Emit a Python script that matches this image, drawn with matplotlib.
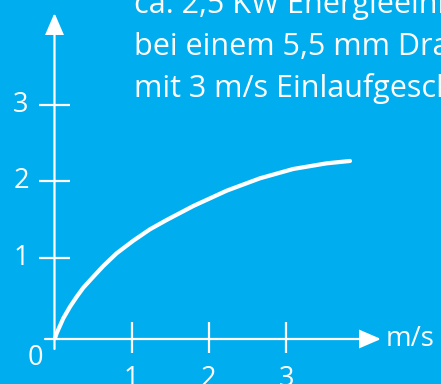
import matplotlib
matplotlib.use("Agg")
import matplotlib.pyplot as plt
from matplotlib.patches import FancyArrowPatch

# ---- data ----
speed = [0.006, 0.028, 0.114, 0.201, 0.288, 0.373, 0.503, 0.632, 0.805, 1.021,
         1.237, 1.453, 1.798, 2.231, 2.662, 3.093, 3.526, 3.828]            # m/s
power = [-0.056, 0.010, 0.206, 0.358, 0.489, 0.607, 0.751, 0.891, 1.058, 1.223,
         1.372, 1.494, 1.677, 1.878, 2.040, 2.162, 2.236, 2.267]            # kW
x_ticks = [1, 2, 3]
y_ticks = [1, 2, 3]
x_tick_labels = ["1", "2", "3"]
y_tick_labels = ["1", "2", "3"]
x_unit = "m/s"
info_lines = ["ca. 2,5 KW Energieeinleitung",
              "bei einem 5,5 mm Draht",
              "mit 3 m/s Einlaufgeschwindigkeit"]

BG = "#00AEEF"
FG = "white"
FONT = "Open Sans"

W, H = 441, 384
fig = plt.figure(figsize=(W / 100, H / 100), dpi=100, facecolor=BG)
ax = fig.add_axes([0, 0, 1, 1])
ax.set_facecolor(BG)
ax.axis("off")

# pixel mapping: x px = 54.5 + 77.2*x ; y px(from top) = 257.7 - 76.35*(y-1)
x0, sx = 54.5, 77.2
y1, sy = 257.7, 76.35
ax.set_xlim(-x0 / sx, (W - x0) / sx)
ax.set_ylim(1 - (H - y1) / sy, 1 + y1 / sy)

def px2x(p):
    return (p - x0) / sx

def px2y(p):
    return 1 + (y1 - p) / sy

xa = 0.0
ya = px2y(339)

# axes with arrows
for a, b in [((xa, px2y(349)), (xa, px2y(13))), ((px2x(45), ya), (px2x(381), ya))]:
    arr = FancyArrowPatch(a, b, arrowstyle="-|>,head_length=13,head_width=5.6",
                          mutation_scale=1, lw=1.6, color=FG,
                          shrinkA=0, shrinkB=0, joinstyle="miter")
    ax.add_patch(arr)

# ticks
half = 15.5
for t in y_ticks:
    ax.plot([px2x(x0 - half), px2x(x0 + half)], [t, t], color=FG, lw=1.6,
            solid_capstyle="butt")
for t in x_ticks:
    ax.plot([t, t], [px2y(322), px2y(353)], color=FG, lw=1.6,
            solid_capstyle="butt")

# curve
ax.plot(speed, power, color=FG, lw=3.0, solid_capstyle="round",
        solid_joinstyle="round")

# tick labels
for t, lab in zip(y_ticks, y_tick_labels):
    ax.text(px2x(21), t, lab, color=FG, fontsize=19.5, family=FONT,
            ha="center", va="center")
for t, lab in zip(x_ticks, x_tick_labels):
    ax.text(t, px2y(365), lab, color=FG, fontsize=19.5, family=FONT,
            ha="center", va="top")
ax.text(px2x(35), px2y(358), "0", color=FG, fontsize=19.5, family=FONT,
        ha="center", va="center")
ax.text(px2x(386), px2y(346), x_unit, color=FG, fontsize=20, family=FONT,
        ha="left", va="baseline")

# info text
for i, line in enumerate(info_lines):
    fig.text(134 / W, 1 - (12.7 + 42 * i) / H, line, color=FG, fontsize=22,
             family=FONT, ha="left", va="baseline")

fig.savefig("out.png", dpi=100, facecolor=BG)
